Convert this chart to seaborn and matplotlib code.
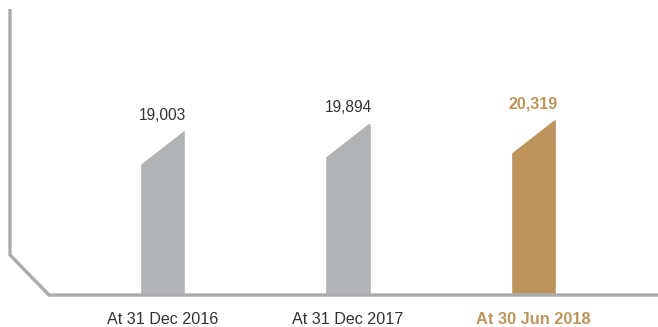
import matplotlib
matplotlib.use("Agg")
import matplotlib.pyplot as plt
from matplotlib.patches import Polygon
import seaborn as sns
import pandas as pd

categories = ["At 31 Dec 2016", "At 31 Dec 2017", "At 30 Jun 2018"]
values = [19003, 19894, 20319]
value_labels = ["19,003", "19,894", "20,319"]

GREY = "#B1B2B4"
GOLD = "#BD955C"
AXIS = "#ABABAD"
TEXT = "#333333"
colors = [GREY, GREY, GOLD]

sns.set_theme(style="white")
plt.rcParams["font.family"] = ["Liberation Sans", "DejaVu Sans"]

W, H = 658, 327
fig = plt.figure(figsize=(W / 100, H / 100), dpi=100)
ax = fig.add_axes([0, 0, 1, 1])

df = pd.DataFrame({"cat": categories, "val": values})
sns.barplot(data=df, x="cat", y="val", hue="cat", palette=colors,
            legend=False, width=0.243, ax=ax, saturation=1)

# pixel mapping: bar centres at 162.5 + 185.5*i px, baseline at 294 px from top
px_per_x = 185.5
x0 = -162.5 / px_per_x
ax.set_xlim(x0, x0 + W / px_per_x)
units_per_px = 116.1
base_from_bottom = H - 294
ax.set_ylim(-base_from_bottom * units_per_px, (H - base_from_bottom) * units_per_px)
ax.axis("off")

def px2data(px, py):
    return x0 + px / px_per_x, (H - py - base_from_bottom) * units_per_px

# cut slanted top (left side lower than right side)
slant = 36 * units_per_px
for patch in ax.patches:
    x = patch.get_x()
    w = patch.get_width()
    h = patch.get_height()
    tri = Polygon([(x - 0.005, h + 10), (x - 0.005, h - slant), (x + w + 0.001, h + 10)],
                  closed=True, facecolor="white", edgecolor="white", lw=0, zorder=5)
    ax.add_patch(tri)

# axis decoration
pts = [px2data(10, 9), px2data(10, 255), px2data(49, 295), px2data(658, 295)]
ax.plot([p[0] for p in pts], [p[1] for p in pts], color=AXIS, lw=2.4,
        solid_joinstyle="miter", solid_capstyle="butt", zorder=6, clip_on=False)

# value labels
for i, (v, lab) in enumerate(zip(values, value_labels)):
    last = i == len(values) - 1
    ax.text(i, v + 15 * units_per_px, lab, ha="center", va="center",
            fontsize=11.6 if last else 11.2, color=GOLD if last else TEXT,
            fontweight="bold" if last else "normal", zorder=7)

# category labels
for i, c in enumerate(categories):
    last = i == len(categories) - 1
    _, yy = px2data(0, 320)
    ax.text(i, yy, c, ha="center", va="center",
            fontsize=11.8 if last else 11.6,
            color=GOLD if last else TEXT,
            fontweight="bold" if last else "normal", zorder=7)

fig.savefig("out.png", dpi=100, facecolor="white")
